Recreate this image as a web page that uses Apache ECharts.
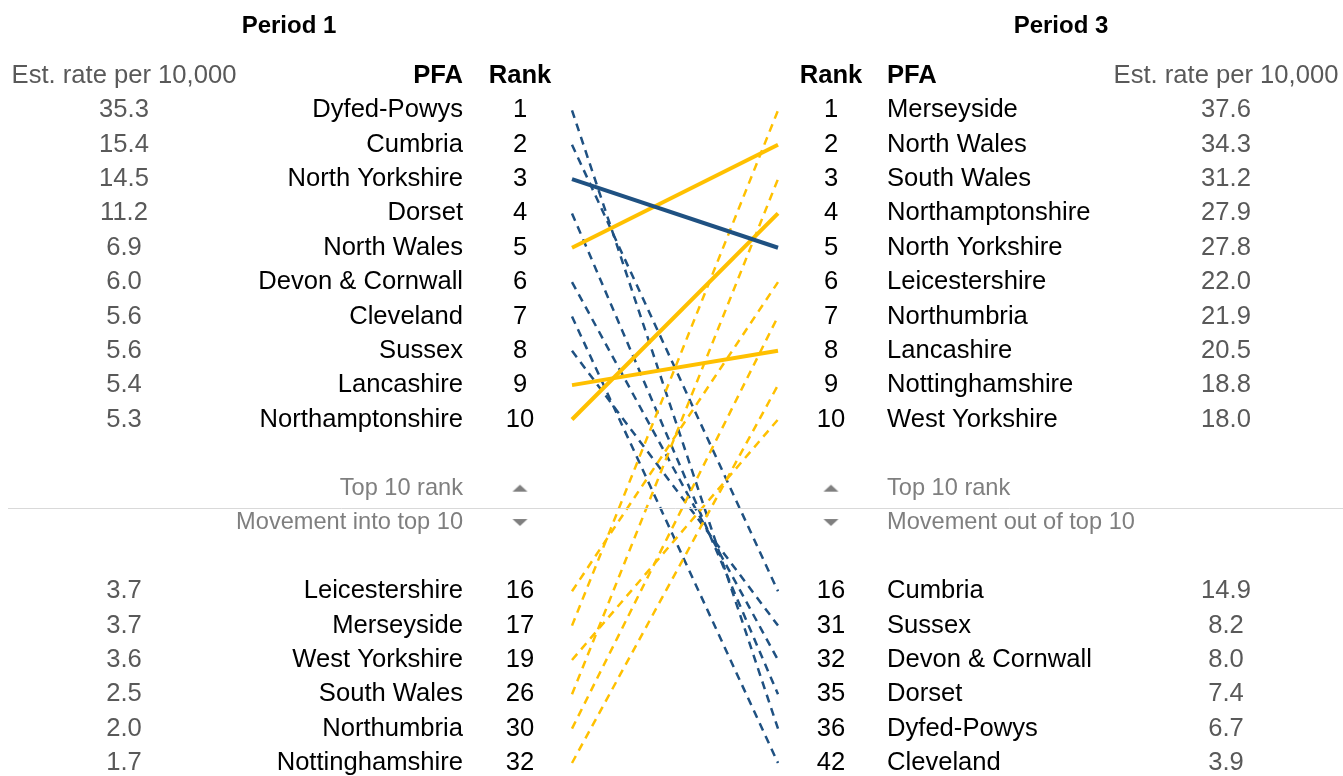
<!DOCTYPE html>
<html>
<head>
<meta charset="utf-8">
<script src="https://cdn.jsdelivr.net/npm/echarts@6/dist/echarts.min.js"></script>
<style>
    html, body { margin: 0; padding: 0; background: #fff; }
    #main { width: 1343px; height: 776px; }
</style>
</head>
<body>
<div id="main"></div>
<script>
// Period 1 - top 10
var p1Names = ['Dyfed-Powys', 'Cumbria', 'North Yorkshire', 'Dorset', 'North Wales', 'Devon & Cornwall', 'Cleveland', 'Sussex', 'Lancashire', 'Northamptonshire'];
var p1Ranks = [1, 2, 3, 4, 5, 6, 7, 8, 9, 10];
var p1Rates = [35.3, 15.4, 14.5, 11.2, 6.9, 6.0, 5.6, 5.6, 5.4, 5.3];
// Period 1 - later moved into top 10
var p1InNames = ['Leicestershire', 'Merseyside', 'West Yorkshire', 'South Wales', 'Northumbria', 'Nottinghamshire'];
var p1InRanks = [16, 17, 19, 26, 30, 32];
var p1InRates = [3.7, 3.7, 3.6, 2.5, 2.0, 1.7];

// Period 3 - top 10
var p3Names = ['Merseyside', 'North Wales', 'South Wales', 'Northamptonshire', 'North Yorkshire', 'Leicestershire', 'Northumbria', 'Lancashire', 'Nottinghamshire', 'West Yorkshire'];
var p3Ranks = [1, 2, 3, 4, 5, 6, 7, 8, 9, 10];
var p3Rates = [37.6, 34.3, 31.2, 27.9, 27.8, 22.0, 21.9, 20.5, 18.8, 18.0];
// Period 3 - moved out of top 10
var p3OutNames = ['Cumbria', 'Sussex', 'Devon & Cornwall', 'Dorset', 'Dyfed-Powys', 'Cleveland'];
var p3OutRanks = [16, 31, 32, 35, 36, 42];
var p3OutRates = [14.9, 8.2, 8.0, 7.4, 6.7, 3.9];

var FONT = '"Liberation Sans", Arial, sans-serif';
var BLUE = '#1f5182';
var GOLD = '#ffc000';

// 20 rows: 0-9 top 10, 11/12 legend, 14-19 movers
var ROWS = 20, MOVED_START = 14, LEGEND_UP = 11, LEGEND_DOWN = 12;
var SPLIT_ROW = (LEGEND_UP + LEGEND_DOWN) / 2;

function rowsOf(top, moved) {
    var r = [];
    for (var i = 0; i < ROWS; i++) r.push('');
    top.forEach(function (v, i) { r[i] = v; });
    moved.forEach(function (v, j) { r[MOVED_START + j] = v; });
    return r;
}
function wrap(style) {
    return function (s) { return s === '' ? '' : '{' + style + '|' + s + '}'; };
}
function fmt(v) { return v.toFixed(1); }

// small flat triangles for the legend
function tri(up) {
    var c = document.createElement('canvas');
    c.width = 15; c.height = 7;
    var ctx = c.getContext('2d');
    ctx.fillStyle = '#7f7f7f';
    ctx.beginPath();
    if (up) { ctx.moveTo(0, 7); ctx.lineTo(7.5, 0); ctx.lineTo(15, 7); }
    else { ctx.moveTo(0, 0); ctx.lineTo(7.5, 7); ctx.lineTo(15, 0); }
    ctx.closePath();
    ctx.fill();
    return c;
}

var FS = 25.6;
var rich = {
    n: { color: '#000', fontSize: FS, fontFamily: FONT },
    g: { color: '#595959', fontSize: FS, fontFamily: FONT },
    hb: { color: '#000', fontSize: FS, fontFamily: FONT, fontWeight: 'bold' },
    hg: { color: '#595959', fontSize: FS, fontFamily: FONT },
    lg: { color: '#7f7f7f', fontSize: 23.6, fontFamily: FONT },
    up: { width: 15, height: 7, backgroundColor: { image: tri(true) } },
    down: { width: 15, height: 7, backgroundColor: { image: tri(false) } }
};

// columns (header + 20 rows)
var lRate = ['{hg|Est. rate per 10,000}'].concat(rowsOf(p1Rates.map(fmt), p1InRates.map(fmt)).map(wrap('g')));
var lName = ['{hb|PFA}'].concat(rowsOf(p1Names, p1InNames).map(wrap('n')));
var lRank = ['{hb|Rank}'].concat(rowsOf(p1Ranks, p1InRanks).map(String).map(wrap('n')));
var rRank = ['{hb|Rank}'].concat(rowsOf(p3Ranks, p3OutRanks).map(String).map(wrap('n')));
var rName = ['{hb|PFA}'].concat(rowsOf(p3Names, p3OutNames).map(wrap('n')));
var rRate = ['{hg|Est. rate per 10,000}'].concat(rowsOf(p3Rates.map(fmt), p3OutRates.map(fmt)).map(wrap('g')));

lName[LEGEND_UP + 1] = '{lg|Top 10 rank}';
lName[LEGEND_DOWN + 1] = '{lg|Movement into top 10}';
rName[LEGEND_UP + 1] = '{lg|Top 10 rank}';
rName[LEGEND_DOWN + 1] = '{lg|Movement out of top 10}';
lRank[LEGEND_UP + 1] = rRank[LEGEND_UP + 1] = '{up| }';
lRank[LEGEND_DOWN + 1] = rRank[LEGEND_DOWN + 1] = '{down| }';

var catIdx = lName.map(function (s, i) { return i; });

function labelAxis(col, position, margin, align) {
    return {
        type: 'category',
        gridIndex: 0,
        position: position,
        inverse: true,
        boundaryGap: false,
        data: catIdx,
        axisLine: { show: false },
        axisTick: { show: false },
        splitLine: { show: false },
        axisLabel: {
            interval: 0,
            margin: margin,
            align: align,
            fontSize: FS,
            fontFamily: FONT,
            rich: rich,
            formatter: function (v, i) { return col[i]; }
        }
    };
}

// slope lines
var leftAll = p1Names.concat(p1InNames);
var series = leftAll.map(function (name, i) {
    var lr = i < 10 ? i : MOVED_START + (i - 10);
    var k = p3Names.indexOf(name);
    var rr = k >= 0 ? k : MOVED_START + p3OutNames.indexOf(name);
    var up = rr < lr;
    var solid = lr < 10 && rr < 10;
    return {
        name: name,
        type: 'line',
        xAxisIndex: 0,
        yAxisIndex: 0,
        data: [[0, lr], [1, rr]],
        symbol: 'none',
        silent: true,
        z: solid ? (up ? 3 : 4) : 2,
        lineStyle: {
            color: up ? GOLD : BLUE,
            width: solid ? 4 : 2.5,
            type: solid ? 'solid' : [8, 6]
        }
    };
});

// separator between the two legend rows
series.push({
    type: 'line',
    xAxisIndex: 1,
    yAxisIndex: 7,
    data: [],
    markLine: {
        symbol: 'none',
        silent: true,
        label: { show: false },
        lineStyle: { color: '#d9d9d9', width: 1, type: 'solid' },
        data: [{ yAxis: SPLIT_ROW }]
    }
});

var myChart = echarts.init(document.getElementById('main'));

var option = {
    animation: false,
    backgroundColor: '#fff',
    title: [
        { text: 'Period 1', left: 289, top: 14, textAlign: 'center', padding: 0,
          textStyle: { fontSize: 24, fontWeight: 'bold', color: '#000', fontFamily: FONT } },
        { text: 'Period 3', left: 1061, top: 14, textAlign: 'center', padding: 0,
          textStyle: { fontSize: 24, fontWeight: 'bold', color: '#000', fontFamily: FONT } }
    ],
    grid: [
        { left: 572, right: 565, top: 76, bottom: 9 },
        { left: 8, right: 0, top: 76, bottom: 9 }
    ],
    xAxis: [
        { type: 'value', gridIndex: 0, min: 0, max: 1, show: false },
        { type: 'value', gridIndex: 1, min: 0, max: 1, show: false }
    ],
    yAxis: [
        { type: 'value', gridIndex: 0, min: -1, max: ROWS - 1, inverse: true, show: false },
        labelAxis(lRate, 'left', 448, 'center'),
        labelAxis(lName, 'left', 109, 'right'),
        labelAxis(lRank, 'left', 52, 'center'),
        labelAxis(rRank, 'right', 53, 'center'),
        labelAxis(rName, 'right', 109, 'left'),
        labelAxis(rRate, 'right', 448, 'center'),
        { type: 'value', gridIndex: 1, min: -1, max: ROWS - 1, inverse: true, show: false }
    ],
    series: series
};

myChart.setOption(option);
</script>
</body>
</html>
